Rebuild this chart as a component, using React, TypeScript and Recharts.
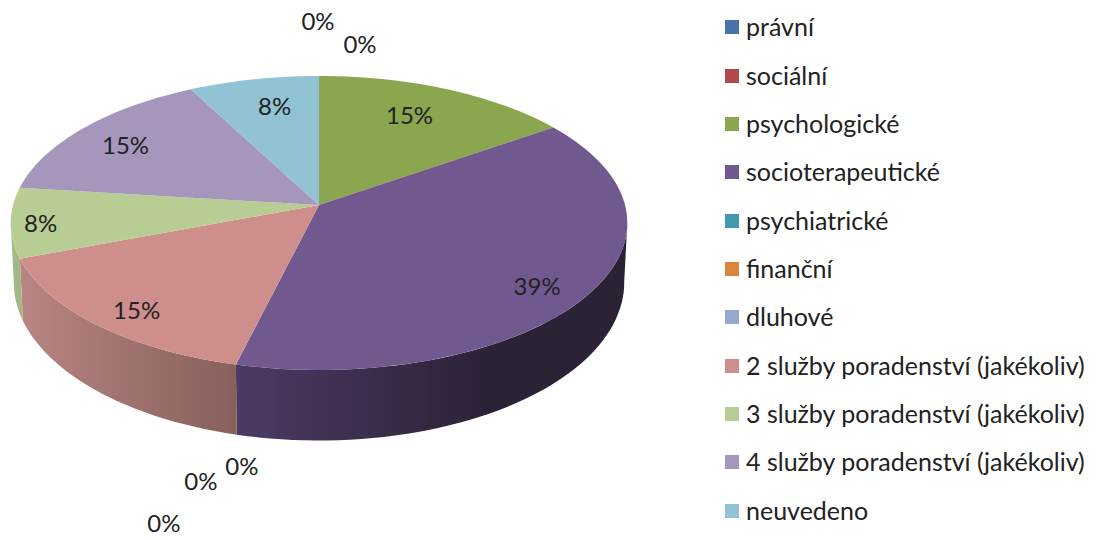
import * as React from 'react';
import { PieChart, Pie, Legend } from 'recharts';

const categories = [
  'právní',
  'sociální',
  'psychologické',
  'socioterapeutické',
  'psychiatrické',
  'finanční',
  'dluhové',
  '2 služby poradenství (jakékoliv)',
  '3 služby poradenství (jakékoliv)',
  '4 služby poradenství (jakékoliv)',
  'neuvedeno',
];
const shares = [0, 0, 15.3, 38.6, 0, 0, 0, 15.4, 7.7, 15.4, 7.7];
const colors = ['#4674a8', '#b04a48', '#8aa64e', '#71588f', '#4198af', '#db843d', '#93a9cf', '#cd8e8c', '#b8cd93', '#a696bc', '#92c3d4'];
// side wall shading, left to right
const wallLeft = ['#000', '#000', '#000', '#4c3a64', '#000', '#000', '#000', '#b88583', '#a4b883', '#000', '#000'];
const wallRight = ['#000', '#000', '#000', '#2c2236', '#000', '#000', '#000', '#87605c', '#a4b883', '#000', '#000'];
const wallSpan = [1, 1, 1, 0.65, 1, 1, 1, 1, 1, 1, 1];
// label offset from the slice's rim point
const labelDx = [-1, 41, -37, -53, 6, -35, -72, 41, 30, 42, 21];
const labelDy = [-55, -32, 25, -7, 101, 116, 158, -15, 0, 16, 26];

const data = categories.map((name, i) => ({ name, value: shares[i], fill: colors[i], index: i }));

const FONT = 'Lato, sans-serif';
const TEXT = '#222';
const CX = 319;
const CY = 205;
// the pie is tilted in perspective, so the apex sits above the middle of the ellipse
const RX = 306;
const RY = 119.7;
const PERSP = -0.1224;

const project = (cx: number, cy: number, theta: number) => {
  const u = Math.sin(theta);
  const v = -Math.cos(theta);
  const d = 1 + PERSP * v;
  return { x: cx + (RX * u) / d, y: (cy + RY * v) / d };
};

const drop = (p: { x: number; y: number }, cx: number, cy: number) => ({
  x: cx + (p.x - cx) * 0.99,
  y: p.y + 58 + 0.076 * (p.y - cy),
});

const toPts = (pts: { x: number; y: number }[]) => pts.map((p) => `${p.x.toFixed(1)},${p.y.toFixed(1)}`).join(' ');
const rad = (deg: number) => (deg * Math.PI) / 180;

const arc = (cx: number, cy: number, from: number, to: number) => {
  const steps = Math.max(2, Math.ceil((to - from) * 30));
  const pts = [];
  for (let i = 0; i <= steps; i++) pts.push(project(cx, cy, from + ((to - from) * i) / steps));
  return pts;
};

const Slice = (props: any) => {
  const { cx, cy, startAngle, endAngle, fill, payload } = props;
  const from = rad(90 - startAngle);
  const to = rad(90 - endAngle);
  if (to - from < 1e-4) return <g />;
  const rim = arc(cx, cy, from, to);
  const frontFrom = Math.max(from, rad(97));
  const frontTo = Math.min(to, rad(263));
  let wall = null;
  if (frontTo > frontFrom) {
    const top = arc(cx, cy, frontFrom, frontTo);
    const bottom = top.map((p) => drop(p, cx, cy)).reverse();
    const id = `wall-${payload.index}`;
    const xs = top.map((p) => p.x);
    const lo = Math.min(...xs);
    const hi = lo + (Math.max(...xs) - lo) * wallSpan[payload.index];
    wall = (
      <g>
        <defs>
          <linearGradient id={id} gradientUnits="userSpaceOnUse" x1={lo} x2={hi} y1={0} y2={0}>
            <stop offset="0" stopColor={wallLeft[payload.index]} />
            <stop offset="1" stopColor={wallRight[payload.index]} />
          </linearGradient>
        </defs>
        <polygon points={toPts([...top, ...bottom])} fill={`url(#${id})`} />
      </g>
    );
  }
  return (
    <g>
      {wall}
      <polygon points={toPts([{ x: cx, y: cy }, ...rim])} fill={fill} />
    </g>
  );
};

const renderLabel = (props: any) => {
  const { cx, cy, midAngle, percent, index } = props;
  const p = project(cx, cy, rad(90 - midAngle));
  return (
    <text
      key={index}
      x={p.x + labelDx[index]}
      y={p.y + labelDy[index]}
      textAnchor="middle"
      dominantBaseline="central"
      fontFamily={FONT}
      fontSize={24}
      fill={TEXT}
    >
      {`${Math.round(percent * 100)}%`}
    </text>
  );
};

const LegendList = ({ payload }: any) => (
  <div style={{ fontFamily: FONT, fontSize: 25, color: TEXT }}>
    {(payload || []).map((item: any) => (
      <div key={item.value} style={{ height: 48.35, display: 'flex', alignItems: 'center', whiteSpace: 'nowrap' }}>
        <span style={{ width: 14, height: 14, background: item.color, marginRight: 7, flex: 'none' }} />
        <span style={{ position: 'relative', top: -1 }}>{item.value}</span>
      </div>
    ))}
  </div>
);

export default function App() {
  return (
    <div style={{ position: 'absolute', left: 0, top: 0, width: 1098, height: 540, background: '#fff' }}>
      <PieChart width={1098} height={540} margin={{ top: 0, right: 0, bottom: 0, left: 0 }}>
        <Pie
          data={data}
          dataKey="value"
          nameKey="name"
          cx={CX}
          cy={CY}
          outerRadius={130}
          startAngle={90}
          endAngle={-270}
          stroke="none"
          shape={Slice}
          label={renderLabel}
          labelLine={false}
          isAnimationActive={false}
        />
        <Legend
          content={LegendList}
          itemSorter={null}
          layout="vertical"
          align="right"
          verticalAlign="top"
          wrapperStyle={{ left: 725, top: 3, width: 373 }}
        />
      </PieChart>
    </div>
  );
}
